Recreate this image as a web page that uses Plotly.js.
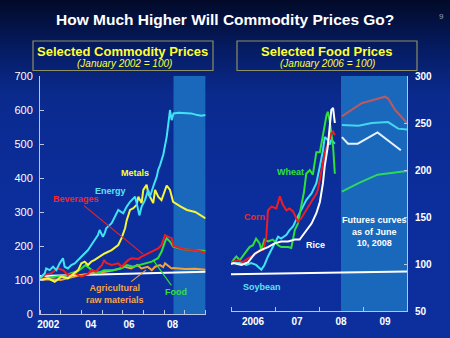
<!DOCTYPE html>
<html>
<head>
<meta charset="utf-8">
<script src="https://cdn.plot.ly/plotly-3.0.1.min.js"></script>
<style>
html,body{margin:0;padding:0;}
body{width:450px;height:338px;overflow:hidden;
background:linear-gradient(to bottom,#020a28 0px,#051a5e 45px,#0a2a8e 95px,#0c2e9c 200px,#0c2f9e 338px);}
#chart{width:450px;height:338px;}
</style>
</head>
<body>
<div id="chart"></div>
<script>
// ---------- Left panel: Selected Commodity Prices (Jan 2002 = 100) ----------
var energyX = [2002.0,2002.23,2002.3,2002.47,2002.63,2002.79,2002.95,2003.11,2003.19,2003.35,2003.51,2003.68,2003.84,2004.0,2004.16,2004.32,2004.48,2004.64,2004.8,2004.88,2005.04,2005.14,2005.2,2005.46,2005.62,2005.78,2006.02,2006.19,2006.35,2006.59,2006.67,2006.8,2006.91,2007.07,2007.23,2007.31,2007.47,2007.64,2007.71,2007.8,2007.96,2008.12,2008.2,2008.28,2008.36,2008.45,2008.7,2009.0,2009.3,2009.6,2009.8,2010.0];
var energyY = [105,120,134,129,139,129,149,164,139,134,144,149,159,169,178,188,203,218,232,247,227,240,252,267,286,306,296,316,330,345,326,290,316,335,365,345,375,404,424,438,470,521,560,600,570,590,592,592,590,585,583,585];

var metalsX = [2002.0,2002.39,2002.71,2003.03,2003.35,2003.68,2003.84,2004.0,2004.16,2004.32,2004.48,2004.64,2004.88,2005.12,2005.46,2005.78,2005.94,2006.11,2006.19,2006.35,2006.51,2006.67,2006.75,2006.91,2006.99,2007.15,2007.23,2007.39,2007.47,2007.56,2007.71,2007.87,2008.04,2008.12,2008.28,2008.43,2008.8,2009.1,2009.5,2009.75,2010.0];
var metalsY = [100,105,95,110,105,120,129,149,154,144,154,159,169,178,188,203,223,252,276,306,311,321,345,326,365,380,355,335,326,365,345,335,365,378,365,330,316,306,300,291,281];

var bevX = [2002.0,2002.23,2002.55,2002.87,2003.11,2003.35,2003.68,2004.0,2004.32,2004.48,2004.7,2005.0,2005.1,2005.2,2005.46,2005.78,2005.94,2006.27,2006.43,2006.75,2006.91,2007.07,2007.23,2007.39,2007.56,2007.71,2007.87,2008.04,2008.2,2008.36,2008.45,2009.0,2009.5,2010.0];
var bevY = [100,115,120,134,129,115,120,110,118,129,125,144,159,150,144,149,139,159,164,162,169,174,178,183,188,193,203,232,227,223,200,190,188,180];

var foodX = [2002.0,2002.3,2002.8,2003.2,2003.5,2003.8,2004.0,2004.2,2004.5,2004.8,2005.1,2005.5,2005.9,2006.2,2006.5,2006.8,2007.1,2007.4,2007.7,2007.87,2008.04,2008.12,2008.28,2008.43,2009.0,2009.5,2010.0];
var foodY = [100,105,110,112,120,125,134,144,129,120,129,129,134,144,139,144,150,154,164,183,213,223,213,198,190,188,185];

var agriX = [2002.0,2002.5,2003.0,2003.5,2004.0,2004.5,2005.0,2005.14,2005.6,2006.1,2006.4,2006.7,2006.9,2007.2,2007.4,2007.56,2007.8,2007.95,2008.04,2008.2,2008.36,2008.45,2009.0,2009.5,2010.0];
var agriY = [100,102,100,108,115,120,122,124,129,139,134,144,134,139,129,139,144,138,149,140,134,135,132,133,130];

var refLeftX = [2002.0,2010.0];
var refLeftY = [112,124];

var leftTickVals = [2002.4,2004.45,2006.3,2008.4];
var leftTickText = ["2002","04","06","08"];

// ---------- Right panel: Selected Food Prices (Jan 2006 = 100) ----------
var cornX = [2006.0,2006.05,2006.16,2006.27,2006.39,2006.54,2006.65,2006.73,2006.8,2006.84,2006.92,2007.03,2007.11,2007.18,2007.26,2007.33,2007.41,2007.52,2007.6,2007.71,2007.83,2007.94,2007.98,2008.05,2008.13,2008.2,2008.28,2008.32,2008.36];
var cornY = [100,102.5,104,102,106,110,115,115,127,157,161,159,172,163,157,159,156,145,149,157,166,175,180,200,218,228,239,241,237];
var cornFX = [2008.52,2008.97,2009.5,2009.57,2009.73,2010.0];
var cornFY = [257,271,278,276,264,250];

var wheatX = [2006.0,2006.05,2006.12,2006.2,2006.31,2006.42,2006.5,2006.57,2006.65,2006.69,2006.76,2006.84,2006.95,2007.07,2007.14,2007.3,2007.37,2007.45,2007.52,2007.6,2007.66,2007.71,2007.79,2007.86,2007.94,2008.02,2008.1,2008.13,2008.17,2008.2,2008.24,2008.32,2008.36];
var wheatY = [100,104,108,104,111,118,120,127,122,115,126,124,126,120,118,118,117,136,143,161,177,196,200,195,219,219,239,250,258,262,253,225,196];
var wheatFX = [2008.52,2008.9,2009.33,2010.0];
var wheatFY = [177,186,195,199];

var riceX = [2006.0,2006.05,2006.24,2006.39,2006.54,2006.69,2006.84,2006.99,2007.14,2007.3,2007.45,2007.56,2007.67,2007.83,2007.94,2008.02,2008.09,2008.13,2008.2,2008.24,2008.28,2008.32,2008.36];
var riceY = [100,101,99,102,111,115,118,122,124,124,126,126,133,143,154,166,186,204,225,243,264,266,250];
var riceFX = [2008.52,2008.66,2008.88,2009.33,2009.86];
var riceFY = [235,228,228,240,221];

var soyX = [2006.0,2006.05,2006.24,2006.35,2006.46,2006.57,2006.69,2006.76,2006.84,2006.92,2006.99,2007.07,2007.14,2007.26,2007.33,2007.41,2007.48,2007.56,2007.63,2007.71,2007.83,2007.94,2008.02,2008.09,2008.13,2008.2,2008.24,2008.28,2008.36];
var soyY = [100,101,101,99,101,99,94,99,108,115,122,129,127,131,136,140,147,154,161,168,175,186,204,221,235,232,227,232,228];
var soyFX = [2008.52,2008.9,2009.2,2009.57,2009.8,2010.0];
var soyFY = [248,247,250,251,244,243];

var refRightX = [2006.0,2010.0];
var refRightY = [89,92];

var rightTickVals = [2006.5,2007.5,2008.5,2009.5];
var rightTickText = ["2006","07","08","09"];

// ---------- colours ----------
var C = {cyan:'#3fe3f5', yellow:'#f5f53a', red:'#ee1c24', green:'#2fe03a', orange:'#f0a238', white:'#ffffff',
         yellowF:'#d9e45a', corn:'#b85a62', cyanF:'#45d6ef', whiteF:'#e4f2ff', greenF:'#2ed860'};

function ln(x,y,color,xa,ya,w){return {x:x,y:y,type:'scatter',mode:'lines',xaxis:xa,yaxis:ya,
  line:{color:color,width:w||2},hoverinfo:'skip',showlegend:false};}

var traces = [
  ln(refLeftX,refLeftY,C.white,'x','y',2),
  ln(agriX,agriY,C.orange,'x','y'),
  ln(foodX,foodY,C.green,'x','y'),
  ln(bevX,bevY,C.red,'x','y'),
  ln(metalsX,metalsY,C.yellow,'x','y'),
  ln(energyX,energyY,C.cyan,'x','y'),
  ln(refRightX,refRightY,C.white,'x2','y2',2),
  ln(cornFX,cornFY,C.corn,'x2','y2'),
  ln(soyFX,soyFY,C.cyanF,'x2','y2'),
  ln(riceFX,riceFY,C.whiteF,'x2','y2'),
  ln(wheatFX,wheatFY,C.greenF,'x2','y2'),
  ln(soyX,soyY,C.cyan,'x2','y2'),
  ln(wheatX,wheatY,C.green,'x2','y2'),
  ln(cornX,cornY,C.red,'x2','y2'),
  ln(riceX,riceY,C.white,'x2','y2')
];

var W=450,H=338;
function px(x){return x/W;} function py(y){return 1-y/H;}
var F='Liberation Sans, Arial, sans-serif';
function lab(text,x,y,color,size,extra){var a={text:text,xref:'paper',yref:'paper',x:px(x),y:py(y),
  xanchor:'center',yanchor:'middle',showarrow:false,font:{family:F,size:size||9,color:color}};
  if(extra){for(var k in extra)a[k]=extra[k];} return a;}

var axisCol='#b9c4e0';
var layout = {
  width:W,height:H,margin:{l:0,r:0,t:0,b:0},
  paper_bgcolor:'rgba(0,0,0,0)',plot_bgcolor:'rgba(0,0,0,0)',
  showlegend:false,
  xaxis:{domain:[px(40),px(205.6)],range:[2002,2010],anchor:'y',showgrid:false,zeroline:false,
    showline:true,linecolor:axisCol,linewidth:1,ticks:'',tickmode:'array',tickvals:leftTickVals,ticktext:leftTickText,
    tickfont:{family:F,size:10,color:'#ffffff',weight:'bold'},ticklabelstandoff:1,
    minor:{tickmode:'linear',tick0:2002,dtick:1,ticks:'inside',ticklen:4,tickcolor:axisCol,showgrid:false}},
  yaxis:{domain:[py(314),py(76)],range:[0,700],anchor:'x',showgrid:false,zeroline:false,
    showline:true,linecolor:axisCol,linewidth:1,ticks:'inside',ticklen:4,tickcolor:axisCol,
    tickmode:'array',tickvals:[0,100,200,300,400,500,600,700],
    tickfont:{family:F,size:11,color:'#ffffff'},ticklabelstandoff:4},
  xaxis2:{domain:[px(231),px(407)],range:[2006,2010],anchor:'y2',showgrid:false,zeroline:false,
    showline:true,linecolor:axisCol,linewidth:1,ticks:'',tickmode:'array',tickvals:rightTickVals,ticktext:rightTickText,
    tickfont:{family:F,size:10,color:'#ffffff',weight:'bold'},ticklabelstandoff:1,
    minor:{tickmode:'linear',tick0:2006,dtick:1,ticks:'inside',ticklen:4,tickcolor:axisCol,showgrid:false}},
  yaxis2:{domain:[py(311),py(76)],range:[50,300],anchor:'x2',side:'right',showgrid:false,zeroline:false,
    showline:true,linecolor:axisCol,linewidth:1,ticks:'inside',ticklen:3,tickcolor:axisCol,
    tickmode:'array',tickvals:[50,100,150,200,250,300],
    tickfont:{family:F,size:10,color:'#ffffff',weight:'bold'},ticklabelstandoff:5},
  shapes:[
    {type:'rect',xref:'x',yref:'y',x0:2008.45,x1:2010,y0:0,y1:700,fillcolor:'#1a68bc',line:{width:0},layer:'below'},
    {type:'rect',xref:'x2',yref:'y2',x0:2008.5,x1:2010,y0:50,y1:300,fillcolor:'#1a68bc',line:{width:0},layer:'below'},
    {type:'rect',xref:'paper',yref:'paper',x0:px(33),x1:px(213),y0:py(70.5),y1:py(41),line:{color:'#8e8f62',width:1.2},fillcolor:'rgba(0,0,0,0)'},
    {type:'rect',xref:'paper',yref:'paper',x0:px(237),x1:px(417),y0:py(70.5),y1:py(41),line:{color:'#8e8f62',width:1.2},fillcolor:'rgba(0,0,0,0)'}
  ],
  annotations:[
    lab('<b>How Much Higher Will Commodity Prices Go?</b>',225,20,'#ffffff',15.5),
    lab('9',441,16,'#9aa0b8',8),
    lab('<b>Selected Commodity Prices</b>',123,51,'#ffff33',13),
    lab('<i>(January 2002 = 100)</i>',124.5,63.5,'#ffff33',10),
    lab('<b>Selected Food Prices</b>',327,51,'#ffff33',13),
    lab('<i>(January 2006 = 100)</i>',327.5,63.5,'#ffff33',10),
    lab('<b>Energy</b>',110,191,'#5ce3f2',9),
    lab('<b>Metals</b>',135,173,'#ffff3a',9),
    {text:'<b>Beverages</b>',xref:'x',yref:'y',x:2006.98,y:176,ax:-67,ay:-55,showarrow:true,arrowhead:0,arrowwidth:1.2,arrowcolor:'#e8232a',standoff:0,
      font:{family:F,size:9,color:'#ee2a2a'}},
    {text:'<b>Agricultural<br>raw materials</b>',xref:'x',yref:'y',x:2007.12,y:129,ax:-31,ay:24,showarrow:true,arrowhead:0,arrowwidth:1.2,arrowcolor:'#f0a238',standoff:0,
      font:{family:F,size:9,color:'#f5a545'}},
    {text:'<b>Food</b>',xref:'x',yref:'y',x:2007.46,y:159,ax:23,ay:32,showarrow:true,arrowhead:0,arrowwidth:1.2,arrowcolor:'#2fe03a',standoff:0,
      font:{family:F,size:9,color:'#33e033'}},
    lab('<b>Wheat</b>',290,172,'#33e033',9),
    lab('<b>Corn</b>',254,217,'#ee2a2a',9),
    lab('<b>Rice</b>',315,245,'#ffffff',9),
    lab('<b>Soybean</b>',262,287,'#5ce3f2',9),
    lab('<b>Futures curves<br>as of June<br>10, 2008</b>',374,231,'#ffffff',9)
  ]
};

Plotly.newPlot('chart',traces,layout,{staticPlot:true,displayModeBar:false});
</script>
</body>
</html>
